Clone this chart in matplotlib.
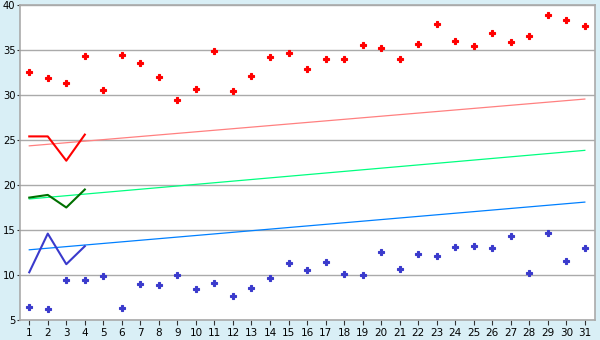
import matplotlib
matplotlib.use("Agg")
import matplotlib.pyplot as plt

days = list(range(1, 32))

red_points = [32.6, 31.9, 31.3, 34.3, 30.6, 34.4, 33.6, 32.0, 29.4, 30.7,
              34.9, 30.5, 32.1, 34.2, 34.7, 32.9, 34.0, 34.0, 35.6, 35.2,
              34.0, 35.7, 37.9, 36.0, 35.5, 36.9, 35.9, 36.6, 38.9, 38.3, 37.7]
blue_points = [6.4, 6.2, 9.5, 9.5, 9.9, 6.3, 9.0, 8.9, 10.0, 8.5,
               9.1, 7.7, 8.6, 9.7, 11.3, 10.6, 11.4, 10.1, 10.0, 12.6,
               10.7, 12.3, 12.1, 13.1, 13.2, 13.0, 14.3, 10.2, 14.7, 11.6, 13.0]

line_days = [1, 2, 3, 4]
red_line = [25.4, 25.4, 22.7, 25.6]
green_line = [18.6, 18.9, 17.5, 19.5]
blue_line = [10.3, 14.6, 11.2, 13.2]

trend_days = [1, 31]
red_trend = [24.35, 29.55]
green_trend = [18.45, 23.85]
blue_trend = [12.8, 18.1]

fig = plt.figure(figsize=(6, 3.4), dpi=100, facecolor='#d9eff6')
ax = fig.add_axes([20/600, 20/340, 575/600, 315/340])
ax.set_facecolor('white')

ax.plot(trend_days, red_trend, color='#ff8080', linewidth=0.9)
ax.plot(trend_days, green_trend, color='#00ff80', linewidth=0.9)
ax.plot(trend_days, blue_trend, color='#0080ff', linewidth=0.9)

ax.plot(line_days, red_line, color='#ff0000', linewidth=1.5)
ax.plot(line_days, green_line, color='#007000', linewidth=1.5)
ax.plot(line_days, blue_line, color='#3a3acc', linewidth=1.5)

ax.plot(days, red_points, linestyle='none', marker='P', markersize=4,
        color='#ff0000', markeredgecolor='#ff0000', markeredgewidth=0.8)
ax.plot(days, blue_points, linestyle='none', marker='P', markersize=4,
        color='#3a3acc', markeredgecolor='#3a3acc', markeredgewidth=0.8)

ax.set_xlim(0.5, 31.55)
ax.set_ylim(5, 40)
ax.set_xticks(days)
ax.set_yticks(range(5, 41, 5))
ax.yaxis.grid(True, color='#aaaaaa', linewidth=1)
ax.set_axisbelow(True)
for s in ax.spines.values():
    s.set_color('#aaaaaa')
    s.set_linewidth(1.2)
ax.tick_params(axis='x', labelsize=7.5, length=3.5, color='#333333', pad=2)
ax.tick_params(axis='y', labelsize=7.2, length=2.2, color='#333333', pad=1)

plt.savefig('out.png', dpi=100, facecolor=fig.get_facecolor())
